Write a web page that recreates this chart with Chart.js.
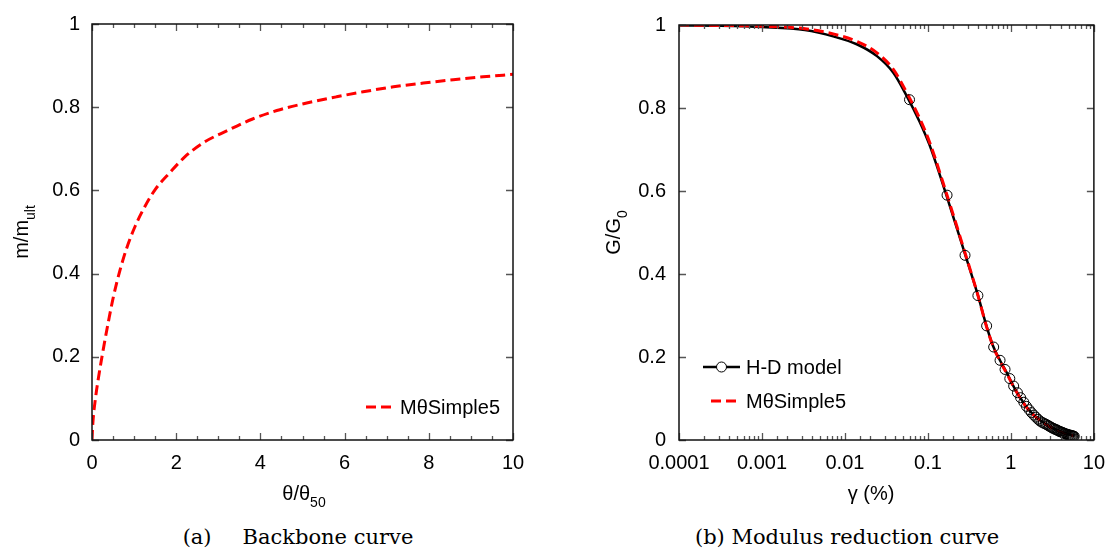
<!DOCTYPE html>
<html>
<head>
<meta charset="utf-8">
<script src="https://cdn.jsdelivr.net/npm/chart.js@4.4.1/dist/chart.umd.min.js"></script>
<style>
  body { margin: 0; background: #fff; width: 1116px; height: 555px; overflow: hidden; position: relative; }
  canvas { position: absolute; top: 0; }
  #cA { left: 0; }
  #cB { left: 558px; }
  .cap { position: absolute; top: 525px; line-height: 24px; font-family: "DejaVu Serif", serif; font-size: 21px;
         color: #000; white-space: nowrap; transform: translateX(-50%); }
  .gap { display: inline-block; width: 31px; }
</style>
</head>
<body>
<canvas id="cA" width="558" height="520"></canvas>
<canvas id="cB" width="558" height="520"></canvas>
<div class="cap" style="left:298px">(a)<span class="gap"></span>Backbone curve</div>
<div class="cap" style="left:847px">(b) Modulus reduction curve</div>
<script>
// (a) backbone curve
const thetaRatio = [0, 0.02, 0.08, 0.17, 0.28, 0.40, 0.51, 0.67, 0.83, 1.03, 1.26, 1.50, 1.86,
                    2.21, 2.65, 3.20, 3.80, 4.39, 5.10, 5.81, 6.44, 7.16, 7.87, 8.58, 9.29, 10];
const mRatio = [0, 0.040, 0.098, 0.160, 0.225, 0.290, 0.345, 0.410, 0.463, 0.515, 0.562, 0.602, 0.644,
                0.681, 0.715, 0.743, 0.771, 0.792, 0.810, 0.825, 0.837, 0.849, 0.858, 0.866, 0.873, 0.879];

// (b) modulus reduction, H-D model line
const gammaHD = [0.0001, 0.0003, 0.001, 0.0033, 0.0074, 0.0141, 0.0243, 0.0383, 0.0552, 0.0794, 0.1045,
                 0.165, 0.285, 0.404, 0.502, 0.608, 0.743, 0.893, 1.12, 1.61, 2.55, 4.02, 5.78];
const gHD = [0.999, 0.998, 0.995, 0.988, 0.972, 0.953, 0.925, 0.885, 0.830, 0.767, 0.711,
             0.593, 0.443, 0.346, 0.278, 0.227, 0.191, 0.162, 0.123, 0.075, 0.040, 0.020, 0.010];
// H-D model markers
const gammaCircles = [0.06, 0.17, 0.28, 0.40, 0.51, 0.62, 0.74, 0.85, 0.97, 1.08, 1.20, 1.31, 1.43,
                      1.54, 1.66, 1.77, 1.89, 2.00, 2.12, 2.23, 2.35, 2.46, 2.58, 2.69, 2.81, 2.92,
                      3.04, 3.15, 3.27, 3.38, 3.50, 3.61, 3.73, 3.84, 3.96, 4.07, 4.19, 4.30, 4.42,
                      4.53, 4.65, 4.76, 4.88, 4.99, 5.11, 5.22, 5.34, 5.45, 5.57, 5.68, 5.80];
const gCircles = [0.820, 0.590, 0.445, 0.348, 0.275, 0.224, 0.192, 0.170, 0.148, 0.130, 0.114, 0.102, 0.091,
                  0.081, 0.073, 0.066, 0.060, 0.055, 0.050, 0.046, 0.043, 0.041, 0.039, 0.037, 0.035, 0.033,
                  0.031, 0.029, 0.028, 0.026, 0.025, 0.024, 0.022, 0.021, 0.020, 0.019, 0.018, 0.017, 0.016,
                  0.015, 0.014, 0.014, 0.013, 0.012, 0.012, 0.011, 0.011, 0.010, 0.010, 0.009, 0.009];
// MθSimple5
const gammaSimple = [0.0001, 0.0003, 0.001, 0.0033, 0.0074, 0.0141, 0.0243, 0.0383, 0.0552, 0.0794, 0.1045,
                     0.165, 0.285, 0.404, 0.502, 0.608, 0.743, 0.893, 1.12, 1.61, 2.55, 4.02, 5.60];
const gSimple = [1.000, 0.999, 0.997, 0.991, 0.978, 0.960, 0.933, 0.893, 0.838, 0.775, 0.718,
                 0.598, 0.446, 0.346, 0.277, 0.226, 0.189, 0.160, 0.122, 0.074, 0.039, 0.019, 0.010];

const xTicksA = [0, 2, 4, 6, 8, 10];
const xTicksB = ['0.0001', '0.001', '0.01', '0.1', '1', '10'];
const yTicks = [0, 0.2, 0.4, 0.6, 0.8, 1];

const pts = (xs, ys) => xs.map((x, i) => ({ x: x, y: ys[i] }));

Chart.defaults.font.family = '"Liberation Sans", Arial, sans-serif';
Chart.defaults.color = '#000';

const RED = '#ff0000';
const FONT = '20px "Liberation Sans", Arial, sans-serif';
const SUBFONT = '14px "Liberation Sans", Arial, sans-serif';

// axis titles (with subscripts) and in-plot legends, per canvas
const decor = {
  cA: {
    yTitle: { x: 22, parts: [['m/m', 0], ['ult', 1]] },
    xTitle: { x: 304, y: 494, parts: [['\u03b8/\u03b8', 0], ['50', 1]] },
    legend: [{ text: 'M\u03b8Simple5', ds: 0, x0: 274, x1: 301, tx: 308, dy: 33 }]
  },
  cB: {
    yTitle: { x: 56, parts: [['G/G', 0], ['0', 1]] },
    xTitle: { x: 313, y: 494, parts: [['\u03b3 (%)', 0]] },
    legend: [
      { text: 'H-D model', ds: 0, circle: 2, x0: 24, x1: 61, tx: 67, dy: 73 },
      { text: 'M\u03b8Simple5', ds: 1, x0: 32, x1: 61, tx: 67, dy: 39 }
    ]
  }
};

function drawTitle(ctx, parts, x, y, vertical) {
  ctx.save();
  ctx.translate(x, y);
  if (vertical) ctx.rotate(-Math.PI / 2);
  let w = 0;
  parts.forEach(p => { ctx.font = p[1] ? SUBFONT : FONT; w += ctx.measureText(p[0]).width; });
  let cx = -w / 2;
  ctx.textBaseline = 'middle';
  ctx.fillStyle = '#000';
  parts.forEach(p => {
    ctx.font = p[1] ? SUBFONT : FONT;
    ctx.fillText(p[0], cx, p[1] ? 9 : 0);
    cx += ctx.measureText(p[0]).width;
  });
  ctx.restore();
}

const extras = {
  id: 'extras',
  afterDraw(chart) {
    const ctx = chart.ctx, a = chart.chartArea, d = decor[chart.canvas.id];
    const xs = chart.scales.x, ys = chart.scales.y;
    ctx.save();
    // inward tick marks on all four sides
    ctx.strokeStyle = '#555';
    ctx.lineWidth = 1.3;
    ctx.beginPath();
    xs.ticks.forEach(t => {
      const px = Math.round(xs.getPixelForValue(t.value)) + 0.5;
      const len = t.label ? 7 : 4;
      ctx.moveTo(px, a.bottom); ctx.lineTo(px, a.bottom - len);
      ctx.moveTo(px, a.top); ctx.lineTo(px, a.top + len);
    });
    ys.ticks.forEach(t => {
      const py = Math.round(ys.getPixelForValue(t.value)) + 0.5;
      ctx.moveTo(a.left, py); ctx.lineTo(a.left + 7, py);
      ctx.moveTo(a.right, py); ctx.lineTo(a.right - 7, py);
    });
    ctx.stroke();
    // frame
    ctx.strokeStyle = '#111';
    ctx.lineWidth = 1.5;
    ctx.strokeRect(a.left, a.top, a.right - a.left, a.bottom - a.top);
    // titles
    drawTitle(ctx, d.yTitle.parts, d.yTitle.x, (a.top + a.bottom) / 2, true);
    drawTitle(ctx, d.xTitle.parts, d.xTitle.x, d.xTitle.y, false);
    // legend
    d.legend.forEach(item => {
      const ds = chart.data.datasets[item.ds];
      const y = a.bottom - item.dy;
      ctx.save();
      ctx.strokeStyle = ds.borderColor;
      ctx.lineWidth = ds.borderWidth;
      ctx.setLineDash(ds.borderDash || []);
      ctx.beginPath();
      ctx.moveTo(a.left + item.x0, y);
      ctx.lineTo(a.left + item.x1, y);
      ctx.stroke();
      ctx.restore();
      if (item.circle !== undefined) {
        const cd = chart.data.datasets[item.circle];
        ctx.beginPath();
        ctx.arc(a.left + (item.x0 + item.x1) / 2, y, cd.pointRadius, 0, Math.PI * 2);
        ctx.fillStyle = '#fff';
        ctx.fill();
        ctx.strokeStyle = cd.pointBorderColor;
        ctx.lineWidth = 1;
        ctx.stroke();
      }
      ctx.font = FONT;
      ctx.fillStyle = '#000';
      ctx.textBaseline = 'middle';
      ctx.fillText(item.text, a.left + item.tx, y + 1);
    });
    ctx.restore();
  }
};

const near = (v, list) => list.some(t => Math.abs(t - v) < 1e-9);

const yScale = (w, pad) => ({
  type: 'linear', min: 0, max: 1,
  grid: { display: false, drawTicks: false }, border: { display: false },
  ticks: { stepSize: 0.2, padding: pad, font: { size: 20 }, color: '#000',
           callback: v => near(v, yTicks) ? String(+v.toFixed(1)) : '' },
  afterFit: s => { s.width = w; }
});

const common = {
  responsive: false,
  animation: false,
  devicePixelRatio: 1,
  plugins: { legend: { display: false }, tooltip: { enabled: false } }
};

new Chart(document.getElementById('cA'), {
  type: 'scatter',
  data: {
    datasets: [{
      label: 'M\u03b8Simple5',
      data: pts(thetaRatio, mRatio),
      showLine: true, borderColor: RED, borderWidth: 3, borderDash: [10, 5],
      pointRadius: 0, cubicInterpolationMode: 'monotone'
    }]
  },
  options: Object.assign({}, common, {
    layout: { padding: { left: 0, top: 18, right: 45, bottom: 20 } },
    scales: {
      x: {
        type: 'linear', min: 0, max: 10,
        grid: { display: false, drawTicks: false }, border: { display: false },
        ticks: { stepSize: 0.5, autoSkip: false, maxRotation: 0, padding: 11, font: { size: 20 }, color: '#000',
                 callback: v => near(v, xTicksA) ? String(Math.round(v)) : '' },
        afterFit: s => { s.height = 60; }
      },
      y: yScale(92, 12)
    }
  }),
  plugins: [extras]
});

new Chart(document.getElementById('cB'), {
  type: 'scatter',
  data: {
    datasets: [{
      label: 'H-D model',
      data: pts(gammaHD, gHD),
      showLine: true, borderColor: '#000', borderWidth: 2.5,
      pointRadius: 0, cubicInterpolationMode: 'monotone', order: 3
    }, {
      label: 'M\u03b8Simple5',
      data: pts(gammaSimple, gSimple),
      showLine: true, borderColor: RED, borderWidth: 3, borderDash: [10, 5],
      pointRadius: 0, cubicInterpolationMode: 'monotone', order: 2
    }, {
      label: 'H-D model points',
      data: pts(gammaCircles, gCircles),
      showLine: false, pointRadius: 5, pointBorderColor: '#000', pointBorderWidth: 1,
      pointBackgroundColor: 'rgba(0,0,0,0)', order: 1
    }]
  },
  options: Object.assign({}, common, {
    layout: { padding: { left: 0, top: 18, right: 16, bottom: 20 } },
    scales: {
      x: {
        type: 'logarithmic', min: 0.0001, max: 10,
        grid: { display: false, drawTicks: false }, border: { display: false },
        ticks: { autoSkip: false, maxRotation: 0, padding: 11, font: { size: 20 }, color: '#000',
                 callback: v => {
                   const e = Math.log10(v), k = Math.round(e);
                   return Math.abs(e - k) < 1e-6 ? xTicksB[k + 4] : '';
                 } },
        afterFit: s => { s.height = 60; }
      },
      y: yScale(121, 13)
    }
  }),
  plugins: [extras]
});
</script>
</body>
</html>
